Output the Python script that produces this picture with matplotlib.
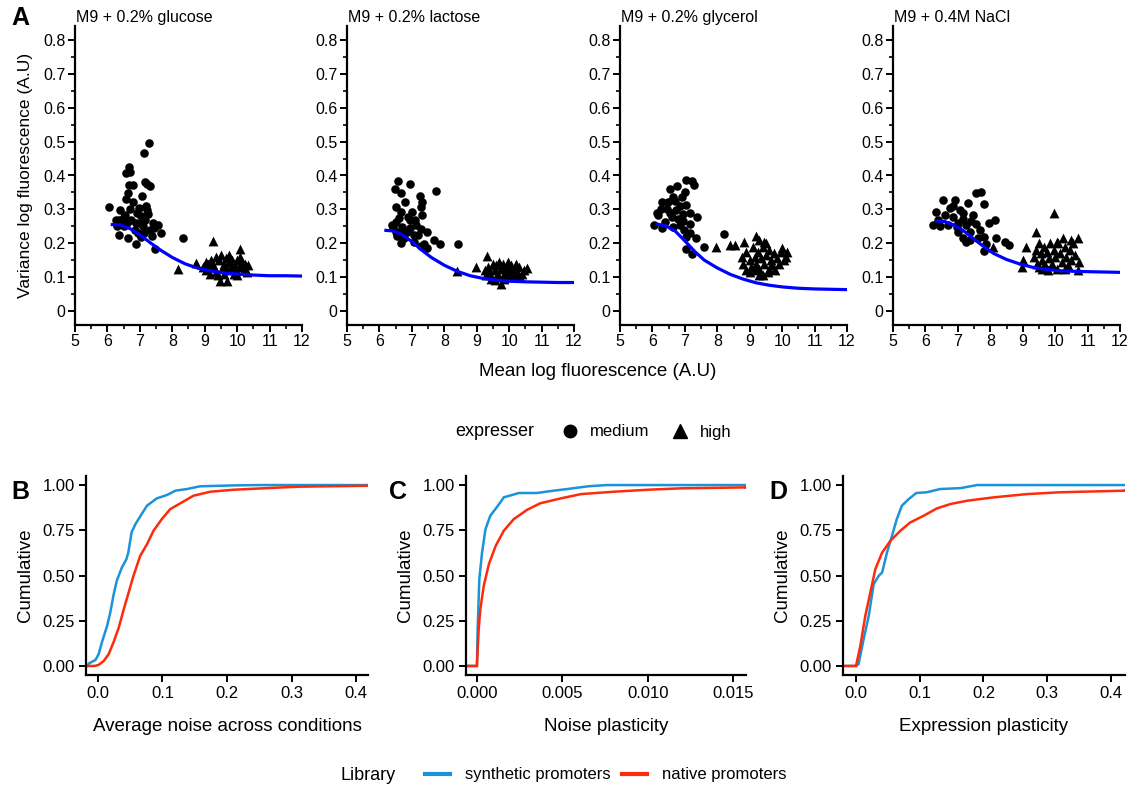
import matplotlib
matplotlib.use("Agg")
import matplotlib.pyplot as plt
from matplotlib.lines import Line2D
from matplotlib.ticker import MultipleLocator

plt.rcParams['font.family'] = ['Liberation Sans', 'DejaVu Sans']

# ---------------- panel A data ----------------
conditions = ['M9 + 0.2% glucose', 'M9 + 0.2% lactose', 'M9 + 0.2% glycerol', 'M9 + 0.4M NaCl']

glucose_medium = [
    (6.04, 0.308), (7.28, 0.497), (7.12, 0.465), (6.66, 0.426), (6.56, 0.406), (6.70, 0.41),
    (6.68, 0.372), (6.79, 0.372), (7.21, 0.376), (7.32, 0.368), (7.15, 0.38), (6.40, 0.298),
    (6.50, 0.278), (6.25, 0.268), (6.30, 0.25), (6.37, 0.224), (6.64, 0.214), (6.87, 0.199),
    (7.02, 0.219), (7.36, 0.222), (7.64, 0.229), (7.57, 0.254), (7.40, 0.26), (7.47, 0.182),
    (8.34, 0.214), (6.98, 0.303), (7.18, 0.31), (7.22, 0.298), (7.07, 0.339), (6.56, 0.332),
    (6.64, 0.347), (6.80, 0.322), (6.54, 0.283), (6.72, 0.27), (6.87, 0.26), (7.10, 0.25),
    (6.84, 0.24), (7.04, 0.28), (7.25, 0.285), (6.50, 0.25), (6.95, 0.23), (6.60, 0.26),
    (6.45, 0.265), (7.30, 0.24), (7.12, 0.23), (6.90, 0.29), (7.15, 0.27), (6.35, 0.27),
    (6.70, 0.30), (7.45, 0.245), (7.00, 0.26),
]
glucose_high = [
    (8.19, 0.124), (8.73, 0.142), (9.25, 0.207), (10.1, 0.182), (9.48, 0.089), (9.68, 0.089),
    (9.40, 0.105), (8.95, 0.13), (9.05, 0.12), (9.10, 0.14), (9.20, 0.15), (9.30, 0.13),
    (9.35, 0.16), (9.45, 0.15), (9.51, 0.165), (9.55, 0.13), (9.60, 0.14), (9.65, 0.155),
    (9.70, 0.12), (9.75, 0.145), (9.80, 0.13), (9.85, 0.15), (9.90, 0.14), (9.95, 0.12),
    (10.0, 0.15), (10.05, 0.13), (10.15, 0.145), (10.2, 0.12), (10.25, 0.14), (10.35, 0.135),
    (10.0, 0.105), (9.9, 0.11), (9.35, 0.115), (9.15, 0.11), (9.6, 0.11), (10.3, 0.115),
    (9.25, 0.135), (9.05, 0.145), (9.75, 0.165), (10.1, 0.16),
]
glucose_fit = [
    (6.15, 0.255), (6.4, 0.254), (6.7, 0.243), (7.0, 0.225), (7.3, 0.203), (7.6, 0.182),
    (8.0, 0.158), (8.4, 0.139), (8.8, 0.126), (9.2, 0.118), (9.6, 0.112), (10.0, 0.109),
    (10.5, 0.106), (11.0, 0.104), (11.5, 0.104), (12.0, 0.103),
]

lactose_medium = [
    (6.58, 0.384), (6.93, 0.375), (7.74, 0.354), (6.48, 0.359), (6.68, 0.347), (7.25, 0.34),
    (6.80, 0.323), (7.30, 0.323), (6.52, 0.308), (7.27, 0.308), (6.65, 0.293), (7.01, 0.293),
    (7.32, 0.283), (6.88, 0.278), (6.50, 0.263), (6.95, 0.268), (6.70, 0.248), (7.14, 0.253),
    (7.27, 0.243), (7.48, 0.234), (6.86, 0.234), (7.07, 0.224), (6.65, 0.229), (6.50, 0.234),
    (6.42, 0.248), (6.68, 0.2015), (7.07, 0.204), (7.38, 0.199), (7.69, 0.21), (7.88, 0.197),
    (8.41, 0.197), (7.48, 0.185), (7.27, 0.192), (6.55, 0.22), (6.75, 0.215), (6.95, 0.245),
    (7.20, 0.225), (6.60, 0.275), (7.10, 0.27), (6.40, 0.255),
]
lactose_high = [
    (9.31, 0.163), (8.98, 0.131), (8.39, 0.119), (10.56, 0.128), (9.74, 0.080), (9.55, 0.09),
    (9.25, 0.12), (9.35, 0.13), (9.40, 0.11), (9.50, 0.14), (9.55, 0.12), (9.60, 0.135),
    (9.65, 0.105), (9.70, 0.145), (9.75, 0.125), (9.80, 0.14), (9.85, 0.11), (9.90, 0.13),
    (9.95, 0.145), (10.0, 0.12), (10.05, 0.135), (10.1, 0.10), (10.15, 0.125), (10.2, 0.14),
    (10.25, 0.115), (10.3, 0.13), (10.4, 0.11), (10.45, 0.12), (9.45, 0.095), (9.85, 0.095),
    (10.2, 0.1), (9.3, 0.105), (9.6, 0.1), (10.0, 0.105), (9.9, 0.115), (10.35, 0.1),
]
lactose_fit = [
    (6.2, 0.238), (6.45, 0.236), (6.7, 0.225), (7.0, 0.205), (7.3, 0.180), (7.6, 0.158),
    (8.0, 0.135), (8.4, 0.117), (8.8, 0.104), (9.2, 0.096), (9.6, 0.091), (10.0, 0.088),
    (10.5, 0.086), (11.0, 0.085), (11.5, 0.084), (12.0, 0.084),
]

glycerol_medium = [
    (6.04, 0.254), (7.03, 0.386), (7.23, 0.384), (7.27, 0.372), (6.77, 0.369), (6.54, 0.36),
    (7.00, 0.352), (6.64, 0.337), (6.90, 0.337), (6.31, 0.322), (6.49, 0.322), (7.05, 0.312),
    (6.44, 0.302), (6.74, 0.298), (6.13, 0.290), (6.18, 0.283), (6.95, 0.286), (7.15, 0.288),
    (6.59, 0.278), (6.79, 0.273), (7.37, 0.278), (6.39, 0.263), (6.85, 0.253), (7.15, 0.258),
    (6.31, 0.244), (6.64, 0.249), (6.98, 0.239), (7.15, 0.229), (7.05, 0.219), (7.35, 0.216),
    (7.03, 0.182), (7.23, 0.167), (7.59, 0.188), (8.22, 0.226), (6.25, 0.30), (6.55, 0.29),
    (6.85, 0.31), (6.70, 0.325), (6.95, 0.265),
]
glycerol_high = [
    (7.95, 0.19), (8.38, 0.194), (8.55, 0.196), (8.82, 0.205), (9.2, 0.22), (9.45, 0.205),
    (10.01, 0.185), (10.11, 0.16), (9.79, 0.12), (9.3, 0.106), (8.9, 0.12), (8.75, 0.16),
    (8.8, 0.14), (8.9, 0.175), (9.0, 0.15), (9.05, 0.13), (9.1, 0.19), (9.15, 0.16),
    (9.2, 0.14), (9.25, 0.175), (9.3, 0.125), (9.35, 0.155), (9.4, 0.19), (9.45, 0.14),
    (9.5, 0.165), (9.55, 0.115), (9.6, 0.18), (9.65, 0.15), (9.7, 0.135), (9.75, 0.17),
    (9.85, 0.155), (9.9, 0.14), (9.95, 0.175), (10.05, 0.15), (10.15, 0.175), (9.4, 0.105),
    (9.6, 0.125), (9.2, 0.12), (9.0, 0.115), (9.5, 0.2), (9.3, 0.21),
]
glycerol_fit = [
    (6.15, 0.256), (6.4, 0.252), (6.7, 0.236), (7.0, 0.207), (7.3, 0.176), (7.6, 0.150),
    (8.0, 0.127), (8.4, 0.108), (8.8, 0.094), (9.2, 0.083), (9.6, 0.076), (10.0, 0.071),
    (10.5, 0.067), (11.0, 0.065), (11.5, 0.064), (12.0, 0.063),
]

nacl_medium = [
    (6.24, 0.253), (6.32, 0.291), (6.55, 0.327), (6.91, 0.329), (7.31, 0.318), (7.57, 0.347),
    (7.72, 0.352), (7.80, 0.315), (8.13, 0.268), (7.96, 0.259), (8.18, 0.215), (8.46, 0.204),
    (8.59, 0.194), (6.75, 0.303), (7.06, 0.298), (6.60, 0.283), (6.86, 0.278), (7.16, 0.273),
    (7.47, 0.283), (6.70, 0.253), (6.97, 0.249), (7.26, 0.253), (7.57, 0.258), (7.00, 0.234),
    (7.36, 0.234), (7.67, 0.239), (7.16, 0.214), (7.36, 0.209), (7.62, 0.214), (7.82, 0.219),
    (7.87, 0.199), (7.26, 0.205), (7.82, 0.178), (6.4, 0.27), (6.45, 0.25), (7.0, 0.26),
    (7.4, 0.265), (7.15, 0.29), (6.85, 0.31),
]
nacl_high = [
    (9.97, 0.29), (9.41, 0.234), (9.1, 0.188), (8.08, 0.188), (9.02, 0.15), (8.98, 0.13),
    (9.41, 0.18), (10.72, 0.214), (10.48, 0.209), (10.25, 0.214), (10.74, 0.145), (10.69, 0.121),
    (9.77, 0.121), (9.35, 0.16), (9.45, 0.14), (9.5, 0.2), (9.55, 0.17), (9.6, 0.15),
    (9.65, 0.19), (9.7, 0.135), (9.75, 0.175), (9.8, 0.155), (9.85, 0.2), (9.9, 0.14),
    (9.95, 0.18), (10.0, 0.16), (10.05, 0.125), (10.1, 0.2), (10.15, 0.17), (10.2, 0.145),
    (10.3, 0.19), (10.35, 0.16), (10.4, 0.135), (10.45, 0.18), (10.5, 0.15), (10.55, 0.2),
    (10.6, 0.165), (10.3, 0.125), (9.6, 0.125), (9.5, 0.13), (10.05, 0.205),
]
nacl_fit = [
    (6.35, 0.266), (6.6, 0.264), (6.9, 0.253), (7.2, 0.235), (7.5, 0.212), (7.8, 0.190),
    (8.1, 0.170), (8.5, 0.152), (8.9, 0.139), (9.3, 0.129), (9.7, 0.123), (10.1, 0.119),
    (10.6, 0.117), (11.0, 0.116), (11.5, 0.115), (12.0, 0.114),
]

medium_sets = [glucose_medium, lactose_medium, glycerol_medium, nacl_medium]
high_sets = [glucose_high, lactose_high, glycerol_high, nacl_high]
fit_sets = [glucose_fit, lactose_fit, glycerol_fit, nacl_fit]

# ---------------- panels B-D data (ECDF points: value, cumulative) ----------------
b_synthetic = [
    (-0.016, 0.0), (-0.0145, 0.013), (-0.004, 0.033), (0.001, 0.065), (0.006, 0.13), (0.014, 0.22),
    (0.019, 0.295), (0.024, 0.39), (0.029, 0.47), (0.037, 0.544), (0.044, 0.59), (0.047, 0.627),
    (0.052, 0.738), (0.058, 0.784), (0.066, 0.83), (0.076, 0.886), (0.091, 0.926), (0.107, 0.945),
    (0.12, 0.969), (0.138, 0.978), (0.158, 0.993), (0.21, 0.998), (0.25, 1.0),
]
b_native = [
    (-0.005, 0.0), (0.001, 0.006), (0.009, 0.028), (0.0165, 0.065), (0.024, 0.13), (0.032, 0.21),
    (0.040, 0.314), (0.0475, 0.406), (0.055, 0.498), (0.0655, 0.609), (0.076, 0.673), (0.086, 0.747),
    (0.099, 0.812), (0.112, 0.867), (0.130, 0.904), (0.148, 0.941), (0.174, 0.963), (0.21, 0.974),
    (0.262, 0.983), (0.313, 0.991), (0.417, 0.996),
]
c_synthetic = [
    (0.0, 0.0), (0.00004, 0.2), (0.00014, 0.48), (0.0003, 0.627), (0.0005, 0.756), (0.00078, 0.83),
    (0.00108, 0.867), (0.00137, 0.904), (0.00157, 0.932), (0.00206, 0.945), (0.00245, 0.956),
    (0.0035, 0.956), (0.0045, 0.969), (0.0053, 0.978), (0.0065, 0.993), (0.0076, 1.0),
]
c_native = [
    (0.0, 0.0), (0.0001, 0.2), (0.0002, 0.314), (0.0004, 0.443), (0.0007, 0.563), (0.0011, 0.664),
    (0.00157, 0.747), (0.00216, 0.812), (0.00294, 0.863), (0.0037, 0.899), (0.0049, 0.926),
    (0.0061, 0.950), (0.008, 0.963), (0.01, 0.974), (0.012, 0.982), (0.0158, 0.987),
]
d_synthetic = [
    (0.0, 0.0), (0.004, 0.01), (0.012, 0.148), (0.020, 0.277), (0.0277, 0.452), (0.0356, 0.498),
    (0.041, 0.517), (0.0486, 0.627), (0.0565, 0.72), (0.064, 0.812), (0.072, 0.886), (0.0826, 0.922),
    (0.0946, 0.956), (0.111, 0.96), (0.132, 0.978), (0.164, 0.983), (0.19, 1.0),
]
d_native = [
    (0.0, 0.0), (0.0068, 0.111), (0.0146, 0.277), (0.0225, 0.406), (0.0303, 0.535), (0.041, 0.627),
    (0.054, 0.692), (0.0695, 0.747), (0.085, 0.793), (0.106, 0.83), (0.127, 0.871), (0.148, 0.895),
    (0.174, 0.913), (0.216, 0.932), (0.268, 0.95), (0.32, 0.96), (0.4225, 0.969),
]

ecdf_panels = [
    ('B', 'Average noise across conditions', b_synthetic, b_native, [0.0, 0.1, 0.2, 0.3, 0.4], '{:.1f}'),
    ('C', 'Noise plasticity', c_synthetic, c_native, [0.0, 0.005, 0.010, 0.015], '{:.3f}'),
    ('D', 'Expression plasticity', d_synthetic, d_native, [0.0, 0.1, 0.2, 0.3, 0.4], '{:.1f}'),
]
cum_ticks = [0.0, 0.25, 0.5, 0.75, 1.0]

SYN_COLOR = '#1a93d9'
NAT_COLOR = '#ff2a0a'


def style_axes(ax, lw=1.6):
    for side in ['top', 'right']:
        ax.spines[side].set_visible(False)
    for side in ['left', 'bottom']:
        ax.spines[side].set_linewidth(lw)
    ax.patch.set_alpha(0)


fig = plt.figure(figsize=(11.41, 7.89), dpi=100)
W, H = 1141.0, 789.0

# ---------------- panel A ----------------
top_lefts = [75, 347, 620, 893]
for i, left in enumerate(top_lefts):
    ax = fig.add_axes([left / W, 1 - 324.5 / H, 227 / W, 298 / H])
    style_axes(ax)
    med = medium_sets[i]
    hi = high_sets[i]
    fit = fit_sets[i]
    ax.scatter([p[0] for p in med], [p[1] for p in med], s=38, marker='o', color='black',
               linewidths=0, zorder=3, clip_on=False)
    ax.scatter([p[0] for p in hi], [p[1] for p in hi], s=50, marker='^', color='black',
               linewidths=0, zorder=3, clip_on=False)
    ax.plot([p[0] for p in fit], [p[1] for p in fit], color='#0000ff', lw=2.3, zorder=4)
    ax.set_xlim(5, 12)
    ax.set_ylim(-0.04, 0.84)
    ax.xaxis.set_major_locator(MultipleLocator(1))
    ax.xaxis.set_minor_locator(MultipleLocator(0.5))
    ax.set_yticks([0.1 * k for k in range(9)])
    ax.set_yticklabels(['0'] + ['{:.1f}'.format(0.1 * k) for k in range(1, 9)])
    ax.yaxis.set_minor_locator(MultipleLocator(0.05))
    ax.tick_params(which='major', length=5, width=1.4, labelsize=11.5, color='black', pad=2)
    ax.tick_params(which='minor', length=3, width=1.2, color='black')
    ax.text(0.005, 1.005, conditions[i], transform=ax.transAxes, ha='left', va='bottom', fontsize=11.5)
    if i == 0:
        ax.set_ylabel('Variance log fluorescence (A.U)', fontsize=12.5, labelpad=7)

fig.text(598 / W, 1 - 372 / H, 'Mean log fluorescence (A.U)', ha='center', va='center', fontsize=13.5)
fig.text(20 / W, 1 - 18 / H, 'A', ha='center', va='center', fontsize=18, fontweight='bold')

# expresser legend
fig.text(455 / W, 1 - 432 / H, 'expresser', ha='left', va='center', fontsize=13)
shape_handles = [
    Line2D([], [], marker='o', ls='', color='black', markersize=9),
    Line2D([], [], marker='^', ls='', color='black', markersize=10),
]
fig.legend(shape_handles, ['medium', 'high'], loc='center left', bbox_to_anchor=(545 / W, 1 - 432 / H),
           ncol=2, frameon=False, fontsize=12, handletextpad=0.6, columnspacing=1.2, handlelength=1.2)

# ---------------- panels B-D ----------------
bottom_specs = [(86, 282, -0.0186, 0.4186), (466, 280, -0.00064, 0.01576), (843, 282, -0.0204, 0.422)]
letter_x = [20, 398, 778]
for j, (letter, xlabel, syn, nat, xticks, fmt) in enumerate(ecdf_panels):
    left, width, x0, x1 = bottom_specs[j]
    ax = fig.add_axes([left / W, 1 - 675 / H, width / W, 199 / H])
    style_axes(ax)
    ax.set_xlim(x0, x1)
    ax.set_ylim(-0.05, 1.05)
    for pts, col in [(syn, SYN_COLOR), (nat, NAT_COLOR)]:
        xs = [x0] + [p[0] for p in pts] + [x1]
        ys = [0.0] + [p[1] for p in pts] + [pts[-1][1]]
        ax.plot(xs, ys, color=col, lw=1.8, solid_joinstyle='miter')
    ax.set_xticks(xticks)
    ax.set_xticklabels([fmt.format(v) for v in xticks])
    ax.set_yticks(cum_ticks)
    ax.set_yticklabels(['{:.2f}'.format(v) for v in cum_ticks])
    ax.tick_params(which='major', length=5, width=1.4, labelsize=12, color='black', pad=3)
    ax.set_xlabel(xlabel, fontsize=13.5, labelpad=12)
    ax.set_ylabel('Cumulative', fontsize=13.5, labelpad=6)
    fig.text(letter_x[j] / W, 1 - 492 / H, letter, ha='center', va='center', fontsize=18, fontweight='bold')

# Library legend
fig.text(340 / W, 1 - 775 / H, 'Library', ha='left', va='center', fontsize=13)
lib_handles = [Line2D([], [], color=SYN_COLOR, lw=3), Line2D([], [], color=NAT_COLOR, lw=3)]
fig.legend(lib_handles, ['synthetic promoters', 'native promoters'], loc='center left',
           bbox_to_anchor=(410 / W, 1 - 775 / H), ncol=2, frameon=False, fontsize=12,
           handletextpad=0.9, columnspacing=0.7, handlelength=1.5)

fig.savefig('out.png', dpi=100)
